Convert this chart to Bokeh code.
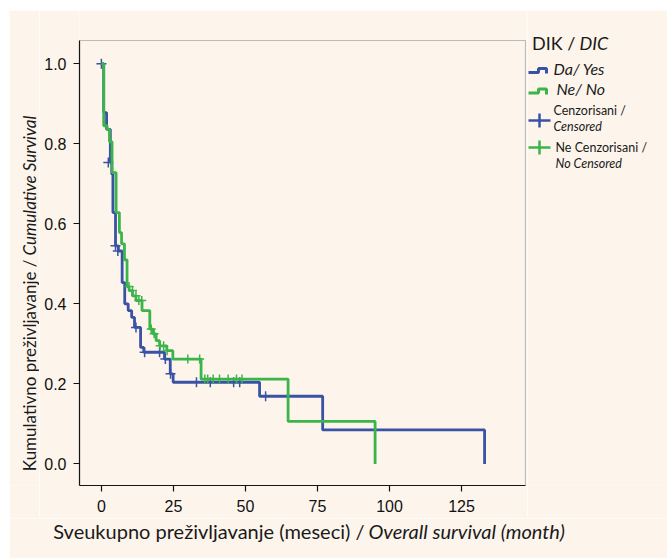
import math
from bokeh.plotting import figure
from bokeh.layouts import row, column
from bokeh.models import (FixedTicker, PrintfTickFormatter, Range1d, ColumnDataSource,
                          BoxAnnotation)
from bokeh.core.properties import value
from bokeh.embed import file_html
from bokeh.resources import INLINE

# ---------------- data ----------------
# Da / Yes  (blue) : event times (months) and survival after each step
yes_t = [0, 0.8, 1.8, 3.1, 3.6, 4.0, 4.9, 5.9, 7.2, 8.1, 9.3, 10.5, 11.5, 13.6, 14.7,
         21.9, 23.9, 24.9, 54.9, 76.8, 133]
yes_s = [1.0, 0.878, 0.836, 0.753, 0.724, 0.628, 0.545, 0.532, 0.453, 0.40, 0.383, 0.366,
         0.341, 0.291, 0.279, 0.262, 0.225, 0.204, 0.169, 0.085, 0.0]
yes_cens_t = [0, 2.4, 4.9, 5.7, 12.0, 15.0, 20.2, 22.2, 24.0, 33.0, 37.8, 45.9, 48.0, 57.0]
yes_cens_s = [1.0, 0.753, 0.545, 0.532, 0.341, 0.279, 0.279, 0.262, 0.225, 0.204, 0.204,
              0.204, 0.204, 0.169]

# Ne / No  (green)
no_t = [0, 0.8, 2.0, 2.8, 3.7, 5.1, 6.25, 7.0, 8.0, 8.9, 9.6, 10.8, 12.0, 14.1, 16.8,
        17.9, 19.0, 20.2, 22.7, 24.8, 34.6, 64.8, 95]
no_s = [1.0, 0.845, 0.836, 0.805, 0.728, 0.628, 0.578, 0.55, 0.51, 0.443, 0.433, 0.42,
        0.408, 0.383, 0.337, 0.325, 0.308, 0.295, 0.283, 0.262, 0.212, 0.106, 0.0]
no_cens_t = [9.6, 10.8, 12.0, 13.0, 14.0, 17.3, 18.3, 20.4, 21.6, 22.8, 30.0, 34.1,
             35.9, 36.9, 38.8, 41.0, 44.0, 46.9, 48.8]
no_cens_s = [0.443, 0.433, 0.42, 0.408, 0.408, 0.337, 0.325, 0.295, 0.295, 0.283, 0.262,
             0.262, 0.212, 0.212, 0.212, 0.212, 0.212, 0.212, 0.212]

x_ticks = [0, 25, 50, 75, 100, 125]
y_ticks = [0.0, 0.2, 0.4, 0.6, 0.8, 1.0]

legend_title = ["DIK /", "DIC"]
legend_labels = ["Da/ Yes", "Ne/ No", "Cenzorisani /", "Censored",
                 "Ne Cenzorisani /", "No Censored"]
x_title = ["Sveukupno preživljavanje (meseci) /", "Overall survival (month)"]
y_title = ["Kumulativno preživljavanje /", "Cumulative Survival"]

# ---------------- style / layout ----------------
BG = "#FDF5EC"
BLUE = "#3A52A4"
GREEN = "#3BB44A"
TXT = "#1a1a1a"
OX, OY = 9, 10            # page offset of the whole layout
ROW_H = 508               # height of the top row (page y 10 .. 518)
YL_W, MAIN_W, LEG_W = 30, 488, 140
XL_H = 40
FL, FR, FT, FB = 79, 525, 40, 485   # visible plot box on the page
X0, X1 = -7.6, 147.2
Y0, Y1 = -0.054, 1.058
PX_X = (FR - FL) / (X1 - X0)        # px per month
PX_Y = (FB - FT) / (Y1 - Y0)        # px per survival unit

main_left = OX + YL_W
main_right = main_left + MAIN_W
BOTTOM_BORDER = OY + ROW_H - FB     # same bottom border for every figure in the row


def aux(w, h, x0, x1, y_top, y_bot, bottom_border=0):
    f = figure(width=w, height=h, output_backend="svg", toolbar_location=None,
               x_range=Range1d(x0, x1), y_range=Range1d(y_bot, y_top),
               x_axis_location=None, y_axis_location=None, min_border=0,
               min_border_bottom=bottom_border)
    f.background_fill_color = BG
    f.border_fill_color = BG
    f.outline_line_color = None
    f.grid.visible = False
    return f


def texts(f, xs, ys, labels, sizes, styles, aligns, angle=0.0):
    src = ColumnDataSource(dict(x=xs, y=ys, text=labels, size=sizes, style=styles,
                                align=aligns))
    f.text(x="x", y="y", text="text", source=src, text_font=value("Lato"),
           text_font_size="size", text_font_style="style", text_align="align",
           text_baseline="middle", text_color=TXT, angle=angle)


# ---- main plot: frame runs from the page top (y 10) to the x axis ----
p = figure(width=MAIN_W, height=ROW_H, output_backend="svg", toolbar_location=None,
           x_range=Range1d(X0, X1 + (main_right - 1 - FR) / PX_X),
           y_range=Range1d(Y0, Y1 + (FT - OY) / PX_Y),
           min_border_left=FL - main_left, min_border_right=1,
           min_border_top=0, min_border_bottom=BOTTOM_BORDER)
p.background_fill_color = BG
p.border_fill_color = BG
p.outline_line_color = None
p.xgrid.visible = False
p.ygrid.visible = False
p.add_layout(BoxAnnotation(left=X0, right=X1, bottom=Y0, top=Y1, fill_alpha=0,
                           line_color="#333333", line_width=1.2))

for ax in (p.xaxis[0], p.yaxis[0]):
    ax.axis_line_color = "#111111"
    ax.axis_line_width = 1.2
    ax.major_tick_line_color = "#111111"
    ax.major_tick_line_width = 1.2
    ax.major_tick_out = 6
    ax.major_tick_in = 0
    ax.minor_tick_line_color = None
    ax.major_label_text_font = "Liberation Sans"
    ax.major_label_text_font_size = "16px"
    ax.major_label_text_color = "#111111"
p.xaxis.bounds = (X0, X1)
p.yaxis.bounds = (Y0, Y1)
p.xaxis.major_label_standoff = 8
p.yaxis.major_label_standoff = 7
p.xaxis.ticker = FixedTicker(ticks=x_ticks)
p.yaxis.ticker = FixedTicker(ticks=y_ticks)
p.yaxis.formatter = PrintfTickFormatter(format="%.1f")

p.step(x=yes_t, y=yes_s, mode="after", line_color=BLUE, line_width=2.8)
p.scatter(x=yes_cens_t, y=yes_cens_s, marker="cross", size=10, line_color=BLUE, line_width=1.5)
p.step(x=no_t, y=no_s, mode="after", line_color=GREEN, line_width=2.8)
p.scatter(x=no_cens_t, y=no_cens_s, marker="cross", size=9, line_color=GREEN, line_width=1.5)

# ---- y title strip (page coordinates, frame = page y 10 .. 485) ----
yl = aux(YL_W, ROW_H, OX, main_left, OY, FB, BOTTOM_BORDER)
texts(yl, [29, 29], [259, 255], y_title, ["17px", "17px"], ["normal", "italic"],
      ["right", "left"], angle=math.pi / 2)

# ---- legend strip (page coordinates) ----
lg = aux(LEG_W, ROW_H, main_right, main_right + LEG_W, OY, FB, BOTTOM_BORDER)
texts(lg, [575, 579], [42, 42], legend_title, ["18px", "18px"], ["normal", "italic"],
      ["right", "left"])
texts(lg, [553, 556, 553, 553, 555, 555], [68, 88, 110, 126, 146.5, 163], legend_labels,
      ["16px", "16px", "12.5px", "12.5px", "12.5px", "12.5px"],
      ["italic", "italic", "normal", "italic", "normal", "italic"], ["left"] * 6)
lg.line(x=[528, 538, 538, 546, 546], y=[72, 72, 68, 68, 73], line_color=BLUE, line_width=3)
lg.line(x=[528, 538, 538, 546, 546], y=[92.5, 92.5, 88.5, 88.5, 94], line_color=GREEN,
        line_width=3)
lg.multi_line(xs=[[528, 550], [539, 539]], ys=[[120, 120], [113, 127]], line_color=BLUE,
              line_width=2.5)
lg.multi_line(xs=[[528, 550], [539, 539]], ys=[[147, 147], [140, 154]], line_color=GREEN,
              line_width=2.5)

# ---- x title strip (page coordinates) ----
xl_top = OY + ROW_H
full_w = YL_W + MAIN_W + LEG_W
xl = aux(full_w, XL_H, OX, OX + full_w, xl_top, xl_top + XL_H)
texts(xl, [364, 368], [530, 530], x_title, ["20px", "20px"], ["normal", "italic"],
      ["right", "left"])

layout = column(row(yl, p, lg, spacing=0), xl, spacing=0, margin=(OY, 0, 0, OX))
open("out.html", "w").write(file_html(layout, INLINE))
